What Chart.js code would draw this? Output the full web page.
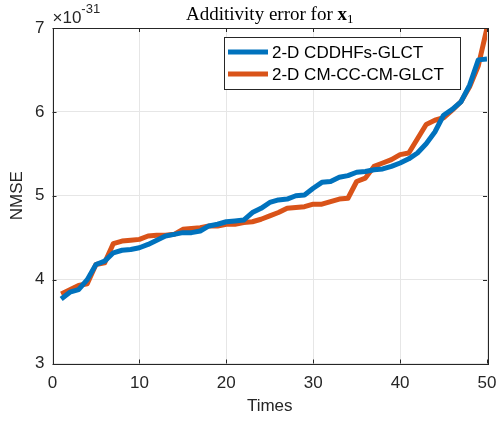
<!DOCTYPE html>
<html>
<head>
<meta charset="utf-8">
<script src="https://cdn.jsdelivr.net/npm/chart.js@4.4.1/dist/chart.umd.min.js"></script>
<style>
  html, body { margin: 0; padding: 0; background: #fff; }
  #wrap { width: 498px; height: 424px; position: relative; }
</style>
</head>
<body>
<div id="wrap"><canvas id="chart" width="498" height="424"></canvas></div>
<script>
// data (values in units of 1e-31)
const times = [1,2,3,4,5,6,7,8,9,10,11,12,13,14,15,16,17,18,19,20,21,22,23,24,25,
               26,27,28,29,30,31,32,33,34,35,36,37,38,39,40,41,42,43,44,45,46,47,48,49,50];
const cddhfs = [3.77,3.85,3.88,4.00,4.18,4.22,4.32,4.35,4.36,4.38,4.42,4.47,4.52,4.54,4.56,4.56,4.58,4.64,4.66,4.69,
                4.70,4.71,4.80,4.85,4.92,4.95,4.96,5.00,5.01,5.09,5.16,5.17,5.22,5.24,5.28,5.29,5.31,5.32,5.35,5.39,
                5.44,5.51,5.62,5.76,5.96,6.03,6.12,6.32,6.62,6.63];
const cmcccm = [3.83,3.88,3.93,3.95,4.18,4.20,4.43,4.46,4.47,4.48,4.52,4.53,4.53,4.54,4.60,4.61,4.62,4.64,4.64,4.66,
                4.66,4.68,4.69,4.72,4.76,4.80,4.85,4.86,4.87,4.90,4.90,4.93,4.96,4.97,5.17,5.21,5.35,5.39,5.43,5.49,
                5.51,5.68,5.85,5.90,5.93,6.02,6.12,6.30,6.55,7.00];
const seriesNames = ['2-D CDDHFs-GLCT', '2-D CM-CC-CM-GLCT'];
const seriesColors = ['#0072BD', '#D95319'];
const xTicks = [0, 10, 20, 30, 40, 50];
const yTicks = [3, 4, 5, 6, 7];

const axisColor = '#262626';
const sansFont = '"Liberation Sans", Arial, sans-serif';

// frame, inward ticks, labels and legend drawn MATLAB style
const matlabDecor = {
    id: 'matlabDecor',
    afterDraw(chart) {
        const ctx = chart.ctx;
        const a = chart.chartArea;
        const xs = chart.scales.x, ys = chart.scales.y;
        ctx.save();

        // axes box
        ctx.strokeStyle = axisColor;
        ctx.lineWidth = 1;
        ctx.strokeRect(Math.round(a.left) + 0.5, Math.round(a.top) + 0.5,
                       Math.round(a.right - a.left), Math.round(a.bottom - a.top));

        // inward ticks
        ctx.beginPath();
        xTicks.forEach(v => {
            const px = Math.round(xs.getPixelForValue(v)) + 0.5;
            ctx.moveTo(px, a.bottom); ctx.lineTo(px, a.bottom - 4);
            ctx.moveTo(px, a.top); ctx.lineTo(px, a.top + 4);
        });
        yTicks.forEach(v => {
            const py = Math.round(ys.getPixelForValue(v)) + 0.5;
            ctx.moveTo(a.left, py); ctx.lineTo(a.left + 4, py);
            ctx.moveTo(a.right, py); ctx.lineTo(a.right - 4, py);
        });
        ctx.stroke();

        // tick labels
        ctx.fillStyle = axisColor;
        ctx.font = '17px ' + sansFont;
        ctx.textAlign = 'center';
        ctx.textBaseline = 'middle';
        xTicks.forEach(v => ctx.fillText(String(v), xs.getPixelForValue(v), a.bottom + 20));
        ctx.textAlign = 'right';
        yTicks.forEach(v => ctx.fillText(String(v), a.left - 8, ys.getPixelForValue(v)));

        // exponent
        ctx.textAlign = 'left';
        ctx.textBaseline = 'alphabetic';
        ctx.font = '17px ' + sansFont;
        ctx.fillText('\u00d710', a.left, 23);
        const w10 = ctx.measureText('\u00d710').width;
        ctx.font = '13px ' + sansFont;
        ctx.fillText('-31', a.left + w10, 13);

        // axis titles
        ctx.font = '17px ' + sansFont;
        ctx.textAlign = 'center';
        ctx.textBaseline = 'middle';
        ctx.fillText('Times', (a.left + a.right) / 2, 406);
        ctx.save();
        ctx.translate(17, (a.top + a.bottom) / 2);
        ctx.rotate(-Math.PI / 2);
        ctx.fillText('NMSE', 0, 0);
        ctx.restore();

        // title: "Additivity error for x_1"
        ctx.fillStyle = '#000';
        ctx.textBaseline = 'alphabetic';
        ctx.textAlign = 'left';
        const serif = '"Liberation Serif", "DejaVu Serif", serif';
        const part1 = 'Additivity error for ';
        ctx.font = '19px ' + serif;
        const w1 = ctx.measureText(part1).width;
        ctx.font = 'bold 19px ' + serif;
        const wx = ctx.measureText('x').width;
        ctx.font = '13px ' + serif;
        const ws = ctx.measureText('1').width;
        let tx = (a.left + a.right) / 2 - (w1 + wx + ws) / 2;
        ctx.font = '19px ' + serif;
        ctx.fillText(part1, tx, 20);
        tx += w1;
        ctx.font = 'bold 19px ' + serif;
        ctx.fillText('x', tx, 20);
        tx += wx;
        ctx.font = '13px ' + serif;
        ctx.fillText('1', tx, 23);

        // legend
        const lx = 224, ly = 37, lw = 236, lh = 52;
        ctx.fillStyle = '#fff';
        ctx.fillRect(lx, ly, lw, lh);
        ctx.strokeStyle = axisColor;
        ctx.lineWidth = 1;
        ctx.strokeRect(lx + 0.5, ly + 0.5, lw, lh);
        ctx.font = '17px ' + sansFont;
        ctx.textBaseline = 'middle';
        ctx.textAlign = 'left';
        chart.data.datasets.forEach((ds, i) => {
            const yy = ly + 15 + i * 22;
            ctx.strokeStyle = ds.borderColor;
            ctx.lineWidth = 5;
            ctx.beginPath();
            ctx.moveTo(lx + 4, yy); ctx.lineTo(lx + 44, yy);
            ctx.stroke();
            ctx.fillStyle = '#000';
            ctx.fillText(ds.label, lx + 48, yy + 1);
        });

        ctx.restore();
    }
};

const datasets = [cddhfs, cmcccm].map((vals, i) => ({
    label: seriesNames[i],
    data: times.map((t, j) => ({ x: t, y: vals[j] })),
    borderColor: seriesColors[i],
    backgroundColor: seriesColors[i],
    borderWidth: 5,
    borderJoinStyle: 'round',
    pointRadius: 0,
    tension: 0,
    fill: false
}));

new Chart(document.getElementById('chart'), {
    type: 'line',
    data: { datasets: datasets },
    options: {
        responsive: false,
        animation: false,
        events: [],
        layout: { padding: { left: 0, right: 11, top: 28, bottom: 0 } },
        plugins: {
            legend: { display: false },
            tooltip: { enabled: false }
        },
        scales: {
            x: {
                type: 'linear',
                min: 0, max: 50,
                afterBuildTicks: s => { s.ticks = xTicks.map(v => ({ value: v })); },
                afterFit: s => { s.height = 60.5; },
                ticks: { display: false },
                grid: { color: '#e6e6e6', drawTicks: false },
                border: { display: false }
            },
            y: {
                type: 'linear',
                min: 3, max: 7,
                afterBuildTicks: s => { s.ticks = yTicks.map(v => ({ value: v })); },
                afterFit: s => { s.width = 52.5; },
                ticks: { display: false },
                grid: { color: '#e6e6e6', drawTicks: false },
                border: { display: false }
            }
        }
    },
    plugins: [matlabDecor]
});
</script>
</body>
</html>
